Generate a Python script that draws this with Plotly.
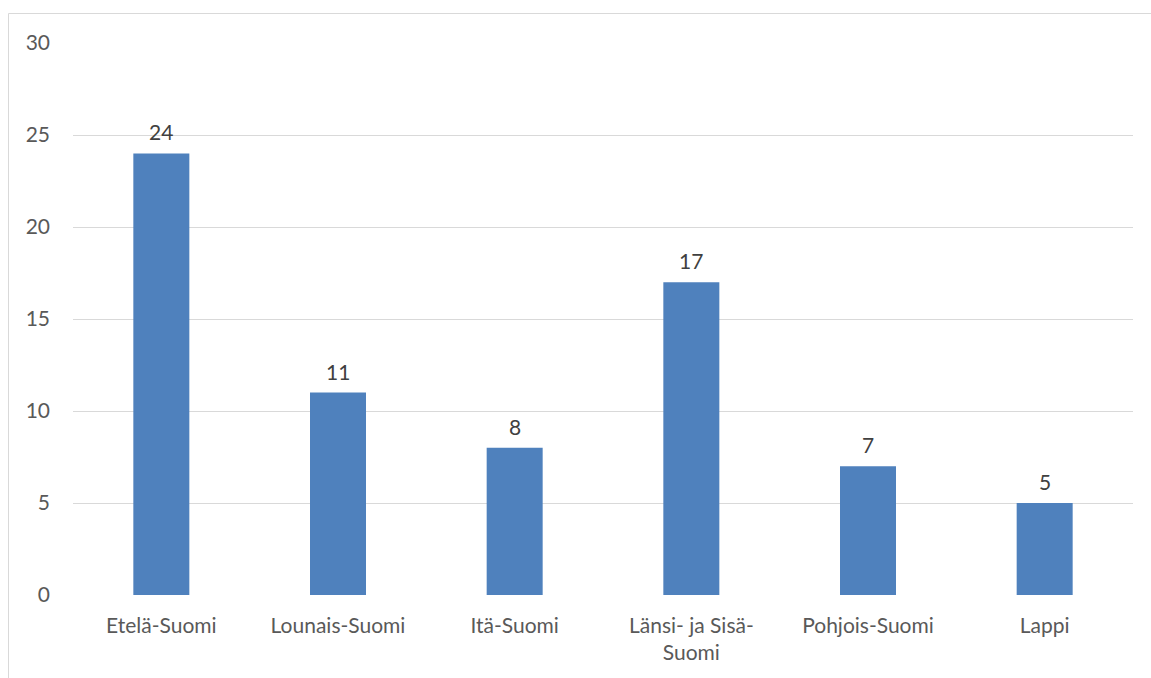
import plotly.graph_objects as go

categories = ["Etelä-Suomi", "Lounais-Suomi", "Itä-Suomi", "Länsi- ja Sisä-<br>Suomi", "Pohjois-Suomi", "Lappi"]
values = [24, 11, 8, 17, 7, 5]
y_ticks = [0, 5, 10, 15, 20, 25, 30]

FONT = "Lato"
TXT = "#595959"
FS = 21

fig = go.Figure()
fig.add_trace(go.Bar(x=categories, y=values, marker=dict(color="#4f81bd", line=dict(width=0)), width=0.317))

for c, v in zip(categories, values):
    fig.add_annotation(x=c, y=v, text=str(v), showarrow=False, yanchor="bottom", yshift=7,
                       font=dict(family=FONT, size=FS, color="#404040"))

fig.update_layout(
    width=1151, height=678,
    margin=dict(l=73, r=18, t=43, b=83),
    paper_bgcolor="white", plot_bgcolor="white",
    showlegend=False,
    font=dict(family=FONT, size=FS, color=TXT),
    xaxis=dict(showgrid=False, showline=False, zeroline=False, tickfont=dict(family=FONT, size=FS, color=TXT),
               ticklabelstandoff=16),
    yaxis=dict(range=[0, 30], tickvals=y_ticks, showgrid=True, gridcolor="#d9d9d9", gridwidth=1,
               zeroline=False, showline=False, tickfont=dict(family=FONT, size=FS, color=TXT),
               ticklabelstandoff=22),
    shapes=[dict(type="rect", xref="paper", yref="paper",
                 x0=(8.5 - 73) / 1060, x1=(1160 - 73) / 1060,
                 y0=(595 - 700) / 552, y1=(595 - 13.5) / 552,
                 line=dict(color="#d9d9d9", width=1), fillcolor="rgba(0,0,0,0)", layer="below")],
)

fig.write_html("out.html")
